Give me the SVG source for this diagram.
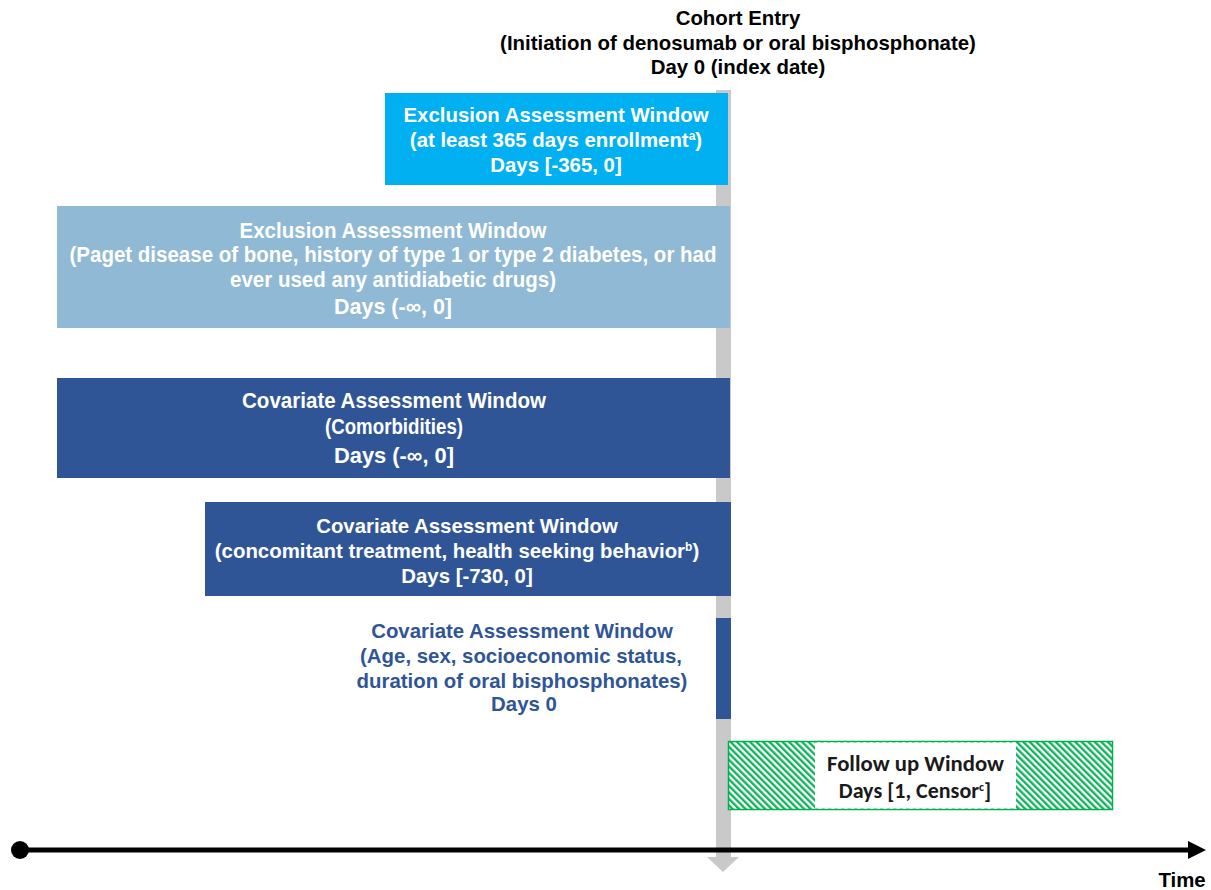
<svg xmlns="http://www.w3.org/2000/svg" width="1211" height="890" viewBox="0 0 1211 890">
<style>
.t{font-family:"Liberation Sans",Arial,sans-serif;font-weight:bold;font-size:20.4px;text-anchor:middle}
.n{font-family:"Liberation Sans Narrow","Liberation Sans",Arial,sans-serif;font-weight:bold;font-size:22px;text-anchor:middle;fill:#fff}
.w{fill:#fff}
.k{fill:#000}
.b{fill:#2f5597}
.c{font-family:Carlito,Lato,"Liberation Sans",sans-serif;font-weight:bold;font-size:22px;text-anchor:middle;fill:#1a1a1a}
.sup{font-size:12px}
</style>
<defs>
<pattern id="hatch" width="4.6" height="10" patternUnits="userSpaceOnUse" patternTransform="rotate(-45)">
<rect width="4.6" height="10" fill="#fff"/>
<line x1="1.2" y1="0" x2="1.2" y2="10" stroke="#00b050" stroke-width="2.2"/>
</pattern>
</defs>
<rect width="1211" height="890" fill="#fff"/>
<g id="connectors">
<rect x="716" y="90" width="15" height="768" fill="#c9c9c9"/>
<polygon points="707,857 739,857 723,872" fill="#c9c9c9"/>
</g>
<g id="title">
<text class="t k" x="738" y="25">Cohort Entry</text>
<text class="t k" x="738" y="50">(Initiation of denosumab or oral bisphosphonate)</text>
<text class="t k" x="738" y="74">Day 0 (index date)</text>
</g>
<g id="excl1">
<rect x="385" y="93" width="343" height="92" fill="#00b0f0"/>
<text class="t w" x="556" y="122">Exclusion Assessment Window</text>
<text class="t w" x="556" y="147">(at least 365 days enrollment<tspan class="sup" dy="-7">a</tspan><tspan dy="7">)</tspan></text>
<text class="t w" x="556" y="172">Days [-365, 0]</text>
</g>
<g id="excl2">
<rect x="57" y="206" width="673" height="122" fill="#8fb9d4"/>
<text class="n" x="393" y="238" textLength="307" lengthAdjust="spacingAndGlyphs">Exclusion Assessment Window</text>
<text class="n" x="393" y="262" textLength="647" lengthAdjust="spacingAndGlyphs">(Paget disease of bone, history of type 1 or type 2 diabetes, or had</text>
<text class="n" x="393" y="287" textLength="326" lengthAdjust="spacingAndGlyphs">ever used any antidiabetic drugs)</text>
<text class="n" x="393" y="314" textLength="118" lengthAdjust="spacingAndGlyphs">Days (-∞, 0]</text>
</g>
<g id="cov1">
<rect x="57" y="378" width="673" height="100" fill="#2f5597"/>
<text class="n" x="394" y="408" textLength="304" lengthAdjust="spacingAndGlyphs">Covariate Assessment Window</text>
<text class="n" x="394" y="434" textLength="138" lengthAdjust="spacingAndGlyphs">(Comorbidities)</text>
<text class="n" x="394" y="463" textLength="120" lengthAdjust="spacingAndGlyphs">Days (-∞, 0]</text>
</g>
<g id="cov2">
<rect x="205" y="502" width="526" height="94" fill="#2f5597"/>
<text class="t w" x="467" y="533">Covariate Assessment Window</text>
<text class="t w" x="457" y="558">(concomitant treatment, health seeking behavior<tspan class="sup" dy="-7">b</tspan><tspan dy="7">)</tspan></text>
<text class="t w" x="467" y="583">Days [-730, 0]</text>
</g>
<g id="cov3">
<rect x="716" y="618" width="15" height="101" fill="#2f5597"/>
<text class="t b" x="522" y="638">Covariate Assessment Window</text>
<text class="t b" x="521" y="663">(Age, sex, socioeconomic status,</text>
<text class="t b" x="522" y="688">duration of oral bisphosphonates)</text>
<text class="t b" x="524" y="711">Days 0</text>
</g>
<g id="followup">
<rect x="728.5" y="741.5" width="384" height="68" fill="url(#hatch)" stroke="#00b050" stroke-width="1.5"/>
<rect x="815" y="742.5" width="201" height="66" fill="#fff"/>
<text class="c" x="915.5" y="771" textLength="177" lengthAdjust="spacingAndGlyphs">Follow up Window</text>
<text class="c" x="915" y="798">Days [1, Censor<tspan class="sup" dy="-7">c</tspan><tspan dy="7">]</tspan></text>
</g>
<g id="timeline">
<line x1="20" y1="850" x2="1190" y2="850" stroke="#000" stroke-width="5"/>
<circle cx="20" cy="850" r="9" fill="#000"/>
<polygon points="1188,841 1206,850 1188,859" fill="#000"/>
<text class="t k" x="1182" y="887" font-size="19">Time</text>
</g>
</svg>
